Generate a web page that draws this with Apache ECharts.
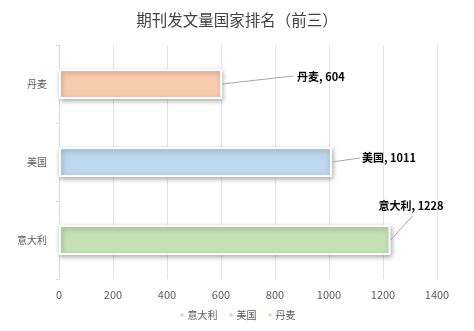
<!DOCTYPE html>
<html><head><meta charset="utf-8">
<script src="https://cdn.jsdelivr.net/npm/echarts@6/dist/echarts.min.js"></script>
<style>html,body{margin:0;padding:0;background:#fff}#c{width:474px;height:331px}</style>
</head><body><div id="c"></div>
<script>
const categories = ['意大利', '美国', '丹麦'];
const values = [1228, 1011, 604];
const colors = ['#C5E0B4', '#BDD7EE', '#F8CBAD'];
const xTicks = [0, 200, 400, 600, 800, 1000, 1200, 1400];
const labelShift = [[-17, -34], [25, -4], [70, -7]];
const leaderEnd = [[22, -24], [28, -4], [71, -8]];

const chart = echarts.init(document.getElementById('c'));
const font = '"Microsoft YaHei","Noto Sans CJK SC",sans-serif';
const series = categories.map((name, i) => ({
  name: name,
  type: 'bar',
  stack: 'total',
  barWidth: 30,
  data: categories.map((c, j) => j === i ? values[i] : '-'),
  itemStyle: {
    color: colors[i],
    borderColor: '#fff',
    borderWidth: 2,
    shadowColor: 'rgba(0,0,0,0.3)',
    shadowBlur: 5,
    shadowOffsetX: 1,
    shadowOffsetY: 2
  },
  label: {
    show: true,
    position: 'right',
    distance: 5,
    formatter: '{a}, {c}',
    fontFamily: font,
    fontWeight: 'bold',
    fontSize: 11,
    color: '#000'
  },
  labelLayout: { dx: labelShift[i][0], dy: labelShift[i][1] }
}));

chart.setOption({
  animation: false,
  color: colors,
  title: {
    text: '期刊发文量国家排名（前三）',
    left: 'center',
    top: 7,
    textStyle: { fontFamily: font, fontWeight: 'normal', fontSize: 15.5, color: '#404040' }
  },
  legend: {
    bottom: 6,
    left: 'center',
    itemWidth: 5,
    itemHeight: 5,
    itemGap: 10,
    icon: 'rect',
    textStyle: { fontFamily: font, fontSize: 10, color: '#595959', padding: [0, 0, 0, -2] },
    data: categories
  },
  grid: { left: 59, right: 37, top: 45, bottom: 52, containLabel: false },
  xAxis: {
    type: 'value',
    min: xTicks[0],
    max: xTicks[xTicks.length - 1],
    interval: xTicks[1] - xTicks[0],
    axisLine: { show: false },
    axisTick: { show: false },
    axisLabel: { fontFamily: font, fontSize: 11, color: '#595959', margin: 10, formatter: v => String(v) },
    splitLine: { lineStyle: { color: '#e3e3e3' } }
  },
  yAxis: {
    type: 'category',
    data: categories,
    axisLine: { show: true, lineStyle: { color: '#d9d9d9' } },
    axisTick: { show: true, length: 3, lineStyle: { color: '#d9d9d9' } },
    axisLabel: { fontFamily: font, fontSize: 10, color: '#595959', margin: 12 }
  },
  series: series
});

const lines = categories.map((c, i) => {
  const p = chart.convertToPixel({ gridIndex: 0 }, [values[i], c]);
  return {
    type: 'line',
    silent: true,
    z: 10,
    shape: { x1: p[0], y1: p[1], x2: p[0] + leaderEnd[i][0], y2: p[1] + leaderEnd[i][1] },
    style: { stroke: '#a6a6a6', lineWidth: 1 }
  };
});
chart.setOption({ graphic: lines });
</script></body></html>
